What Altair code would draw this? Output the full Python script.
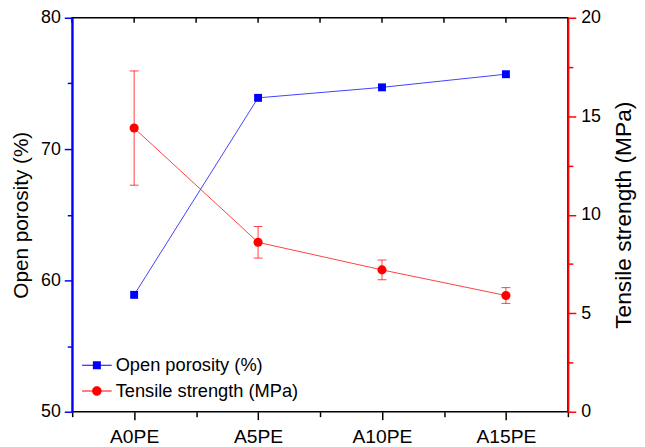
import altair as alt
import pandas as pd

categories = ["A0PE", "A5PE", "A10PE", "A15PE"]
open_porosity = [58.9, 73.9, 74.7, 75.7]
tensile_strength = [14.4, 8.6, 7.2, 5.9]
tensile_err_low = [11.5, 7.8, 6.7, 5.5]
tensile_err_high = [17.3, 9.4, 7.7, 6.3]
series_names = ["Open porosity (%)", "Tensile strength (MPa)"]
porosity_ticks = [50, 55, 60, 65, 70, 75, 80]
strength_ticks = [0, 2.5, 5, 7.5, 10, 12.5, 15, 17.5, 20]

BLUE = "#0000ff"
RED = "#ff0000"
FONT = "Liberation Sans"

df = pd.DataFrame({
    "idx": list(range(len(categories))),
    "cat": categories,
    "por": open_porosity,
    "ts": tensile_strength,
    "lo": tensile_err_low,
    "hi": tensile_err_high,
})
leg_df = pd.DataFrame({"series": series_names})

x_values = [i * 0.5 - 0.5 for i in range(2 * len(categories) + 1)]
top_df = pd.DataFrame({"v": x_values})
cat_js = "[" + ",".join("'" + c + "'" for c in categories) + "]"
x_scale = alt.Scale(domain=[-0.5, len(categories) - 0.5], nice=False, zero=False)

x_axis_bottom = alt.Axis(
    orient="bottom", values=x_values,
    labelExpr="datum.value % 1 == 0 ? " + cat_js + "[datum.value] : ''",
    tickSize={"condition": {"test": "datum.value % 1 == 0", "value": 8}, "value": 5},
    tickColor="black", tickWidth=1.5, domain=False, labelPadding=8,
    labelFontSize=19.5, grid=False, zindex=1,
)

axis_left = alt.Axis(
    orient="left", values=porosity_ticks,
    labelExpr="datum.value % 10 == 0 ? datum.label : ''",
    tickSize={"condition": {"test": "datum.value % 10 == 0", "value": 8}, "value": 5},
    domainColor=BLUE, domainWidth=2, tickColor=BLUE, tickWidth=1.5,
    labelPadding=4, titlePadding=9, titleFontSize=21, zindex=1, grid=False,
)
axis_right = alt.Axis(
    orient="right", values=strength_ticks,
    labelExpr="datum.value % 5 == 0 ? datum.label : ''",
    tickSize={"condition": {"test": "datum.value % 5 == 0", "value": 8}, "value": 5},
    domainColor=RED, domainWidth=2, tickColor=RED, tickWidth=1.5,
    labelPadding=5, titlePadding=12, titleFontSize=23, titleAngle=270, titleBaseline="top",
    zindex=1, grid=False,
)

xb = alt.X("idx:Q", scale=x_scale, axis=x_axis_bottom, title=None)

yb = alt.Y("por:Q", scale=alt.Scale(domain=[50, 80], nice=False, zero=False),
           axis=axis_left, title="Open porosity (%)")
ts_scale = alt.Scale(domain=[0, 20], nice=False)
yr = alt.Y("ts:Q", scale=ts_scale, axis=axis_right, title="Tensile strength (MPa)")
ylo = alt.Y("lo:Q", scale=ts_scale, axis=axis_right, title="Tensile strength (MPa)")
yhi = alt.Y("hi:Q", scale=ts_scale, axis=axis_right, title="Tensile strength (MPa)")

base = alt.Chart(df)

# inward mirror ticks along the top frame
top_ticks = alt.Chart(top_df).mark_rule(color="black", strokeWidth=1.5).encode(
    x=alt.X("v:Q", scale=x_scale, axis=x_axis_bottom, title=None),
    y=alt.value(0), y2=alt.value(5),
)

blue_line = base.mark_line(color=BLUE, strokeWidth=1, opacity=0.75).encode(x=xb, y=yb)
blue_pts = base.mark_point(shape="square", filled=True, color=BLUE, size=64, opacity=1).encode(x=xb, y=yb)
blue = alt.layer(top_ticks, blue_line, blue_pts)

red_line = base.mark_line(color=RED, strokeWidth=1, opacity=0.75).encode(x=xb, y=yr)
red_rule = base.mark_rule(color=RED, strokeWidth=1, opacity=0.75).encode(x=xb, y=ylo, y2="hi:Q")
red_cap_lo = base.mark_tick(color=RED, orient="horizontal", size=9, thickness=1, opacity=0.75).encode(x=xb, y=ylo)
red_cap_hi = base.mark_tick(color=RED, orient="horizontal", size=9, thickness=1, opacity=0.75).encode(x=xb, y=yhi)
red_pts = base.mark_point(shape="circle", filled=True, color=RED, size=85, opacity=1).encode(x=xb, y=yr)
red = alt.layer(red_line, red_rule, red_cap_lo, red_cap_hi, red_pts)

path_blue = ("M-1,-0.035H-0.27V0.035H-1Z M0.27,-0.035H1V0.035H0.27Z "
             "M-0.27,-0.27H0.27V0.27H-0.27Z")
path_red = ("M-1,-0.035H-0.3V0.035H-1Z M0.3,-0.035H1V0.035H0.3Z "
            "M0.32,0A0.32,0.32 0 1,1 -0.32,0A0.32,0.32 0 1,1 0.32,0Z")

leg = alt.Legend(
    title=None, orient="none", legendX=10, legendY=337,
    symbolSize=900, symbolOpacity=1, symbolStrokeWidth=0,
    labelFont=FONT, labelFontSize=18.5, labelColor="black", labelOffset=4,
    labelLimit=0, rowPadding=1,
)
legend_layer = alt.Chart(leg_df).mark_point(filled=True, size=900, opacity=0).encode(
    color=alt.Color("series:N", scale=alt.Scale(domain=series_names, range=[BLUE, RED]), legend=leg),
    shape=alt.Shape("series:N", scale=alt.Scale(domain=series_names, range=[path_blue, path_red]), legend=leg),
)

chart = alt.layer(blue, red, legend_layer).resolve_scale(
    y="independent"
).properties(
    width=502, height=399,
    padding={"left": 65, "top": 7, "right": 70, "bottom": 45},
    autosize=alt.AutoSizeParams(type="none"),
).configure_view(
    stroke="black", strokeWidth=1.5
).configure_axis(
    labelFont=FONT, titleFont=FONT, labelFontSize=18,
    titleFontWeight="normal", labelColor="black", titleColor="black",
)

chart.save("out.html", embed_options={"renderer": "svg", "actions": False})
